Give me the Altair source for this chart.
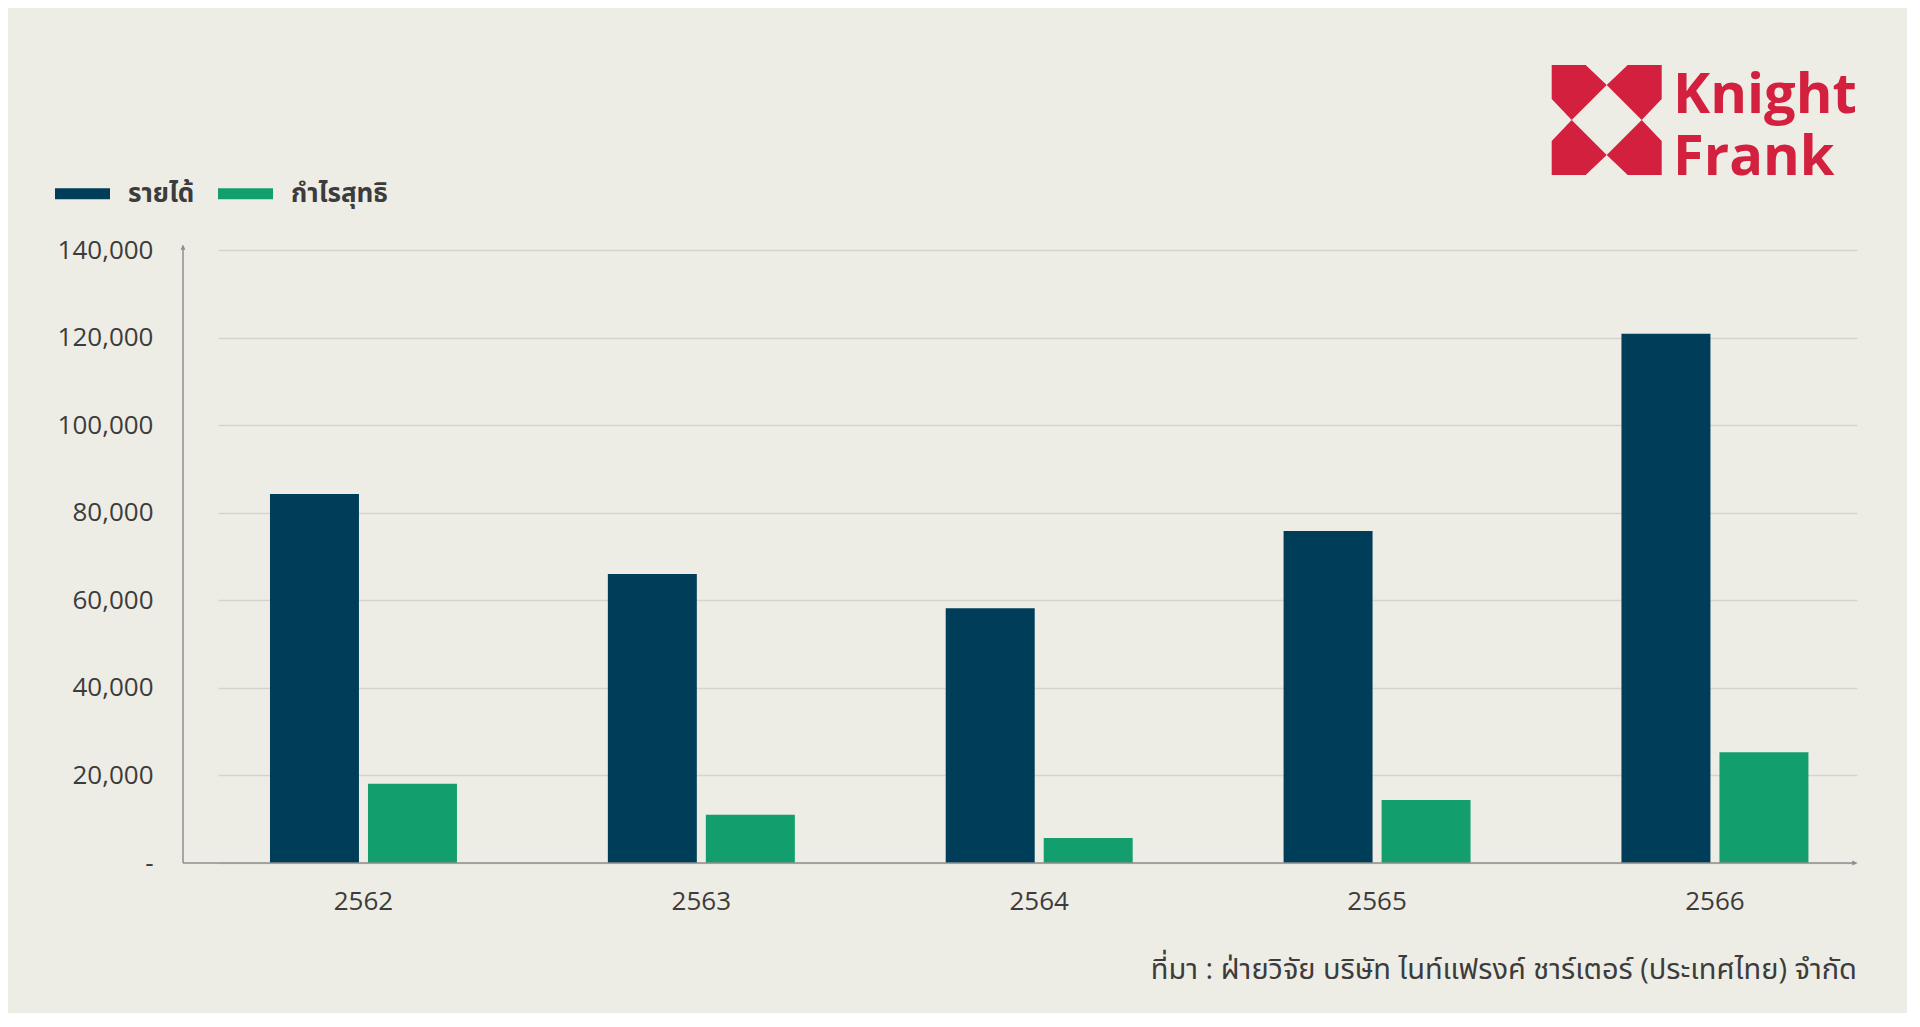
import altair as alt
import pandas as pd

# ---- data ----
years = ["2562", "2563", "2564", "2565", "2566"]
revenue = [84300, 66000, 58200, 75800, 120900]
net_profit = [18100, 11000, 5700, 14400, 25300]
series_names = ["รายได้", "กำไรสุทธิ"]
y_ticks = [0, 20000, 40000, 60000, 80000, 100000, 120000, 140000]
source_text = ["ที่มา : ฝ่ายวิจัย บริษัท ไนท์แฟรงค์ ชาร์เตอร์ (ประเทศไทย) จำกัด"]
logo_words = ["Knight", "Frank"]

rows = []
for i, yr in enumerate(years):
    rows.append({"year": yr, "series": series_names[0], "value": revenue[i]})
    rows.append({"year": yr, "series": series_names[1], "value": net_profit[i]})
df = pd.DataFrame(rows)

W, H = 1639, 613
BG = "#eeede5"
NAVY = "#003d58"
GREEN = "#139f6d"
RED = "#d3203e"
TEXT = "#3c3c3c"
AXIS = "#8e8e8e"
GRID = "#d6d5cd"
FONT = "Open Sans, Noto Sans Thai, Noto Sans, sans-serif"

bars = alt.Chart(df).mark_bar().encode(
    x=alt.X(
        "year:N", sort=years,
        scale=alt.Scale(paddingInner=0.4466, paddingOuter=0.1488, align=0.517),
        axis=alt.Axis(title=None, domain=False, ticks=False, tickSize=0, grid=False,
                      labelAngle=0, labelFontSize=26, labelFont=FONT, labelColor=TEXT,
                      labelFontWeight=500,
                      labelPadding=38, labelBaseline="middle"),
    ),
    xOffset=alt.XOffset("series:N", sort=series_names,
                        scale=alt.Scale(paddingInner=0.092, paddingOuter=0)),
    y=alt.Y(
        "value:Q",
        scale=alt.Scale(domain=[0, 140000], nice=False),
        axis=alt.Axis(title=None, values=y_ticks, domain=False, ticks=False, tickSize=0,
                      offset=35, labelPadding=30, labelFontSize=26, labelFont=FONT,
                      labelFontWeight=500,
                      labelColor=TEXT, labelBaseline="middle",
                      labelExpr="datum.value == 0 ? '-' : format(datum.value, ',')",
                      gridColor=GRID, gridWidth=1.5),
    ),
    color=alt.Color(
        "series:N", sort=series_names,
        scale=alt.Scale(domain=series_names, range=[NAVY, GREEN]),
        legend=alt.Legend(orient="none", legendX=-163, legendY=-84, direction="horizontal",
                          title=None, symbolType="M-1,-0.2H1V0.2H-1Z", symbolSize=3025,
                          symbolStrokeWidth=0, labelFontSize=26, labelFontWeight="bold",
                          labelColor=TEXT, labelFont=FONT, labelOffset=18,
                          columnPadding=23, padding=0),
    ),
)

one = alt.Data(values=[{"k": 1}])

y_line = alt.Chart(one).mark_rule(color=AXIS, strokeWidth=1.5).encode(
    x=alt.value(-35), y=alt.value(-4), y2=alt.value(H))
x_line = alt.Chart(one).mark_rule(color=AXIS, strokeWidth=1.5).encode(
    x=alt.value(-35), x2=alt.value(W - 3), y=alt.value(H))
y_arrow = alt.Chart(one).mark_point(shape="M0,-1L0.7,0.5L-0.7,0.5Z", filled=True,
                                    size=49, color=AXIS, opacity=1, strokeWidth=0).encode(
    x=alt.value(-35), y=alt.value(-2))
x_arrow = alt.Chart(one).mark_point(shape="M1,0L-0.5,0.7L-0.5,-0.7Z", filled=True,
                                    size=49, color=AXIS, opacity=1, strokeWidth=0).encode(
    x=alt.value(W - 3), y=alt.value(H))

footer = alt.Chart(pd.DataFrame({"t": source_text})).mark_text(
    align="right", baseline="middle", fontSize=29, font=FONT, color=TEXT).encode(
    text="t:N", x=alt.value(W), y=alt.value(H + 107))

logo_path = ("M-1.1,-1.1L-0.42,-1.1L0,-0.7L-0.7,0L-1.1,-0.42Z"
             "M1.1,-1.1L0.42,-1.1L0,-0.7L0.7,0L1.1,-0.42Z"
             "M-1.1,1.1L-0.42,1.1L0,0.7L-0.7,0L-1.1,0.42Z"
             "M1.1,1.1L0.42,1.1L0,0.7L0.7,0L1.1,0.42Z")
logo_mark = alt.Chart(one).mark_point(shape=logo_path, filled=True, size=10000,
                                      color=RED, opacity=1, strokeWidth=0).encode(
    x=alt.value(1388.7), y=alt.value(-130))
logo_text = alt.Chart(pd.DataFrame({"t": ["\n".join(logo_words)]})).mark_text(
    align="left", baseline="alphabetic", fontSize=56, fontWeight="bold",
    font="Open Sans", color=RED, lineBreak="\n", lineHeight=62).encode(
    text="t:N", x=alt.value(1455), y=alt.value(-137))

chart = alt.layer(
    bars, y_line, x_line, y_arrow, x_arrow, footer, logo_mark, logo_text
).properties(
    width=W, height=H, background=BG,
    padding={"left": 210, "top": 242, "right": 50, "bottom": 150},
    autosize=alt.AutoSizeParams(type="none"),
).configure_view(stroke=None)

chart.save("out.html", embed_options={"renderer": "svg", "actions": False})
